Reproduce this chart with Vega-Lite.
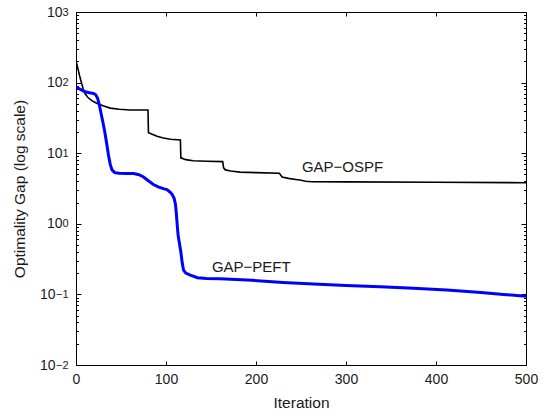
{
  "$schema": "https://vega.github.io/schema/vega-lite/v6.json",
  "width": 450,
  "height": 353,
  "autosize": "none",
  "padding": {"left": 76, "top": 12, "right": 28, "bottom": 53},
  "background": "white",
  "config": {
    "font": "Liberation Sans",
    "view": {"stroke": "#000", "strokeWidth": 1},
    "axis": {
      "grid": false,
      "domainColor": "#000",
      "tickColor": "#000",
      "labelColor": "#1a1a1a",
      "titleColor": "#1a1a1a",
      "labelFont": "Liberation Sans",
      "titleFont": "Liberation Sans",
      "labelFontSize": 14,
      "titleFontSize": 15.5,
      "titleFontWeight": "normal"
    }
  },
  "datasets": {
    "ospf": [
      {"iteration": 0, "gap": 205}, {"iteration": 2, "gap": 160}, {"iteration": 4, "gap": 125},
      {"iteration": 6, "gap": 100}, {"iteration": 8, "gap": 82}, {"iteration": 10, "gap": 70},
      {"iteration": 13, "gap": 62}, {"iteration": 18, "gap": 55}, {"iteration": 23, "gap": 51},
      {"iteration": 30, "gap": 47}, {"iteration": 38, "gap": 43.5}, {"iteration": 48, "gap": 42},
      {"iteration": 60, "gap": 41}, {"iteration": 80, "gap": 41}, {"iteration": 80.5, "gap": 19.5},
      {"iteration": 86, "gap": 18.3}, {"iteration": 90, "gap": 17.4}, {"iteration": 97, "gap": 16.4},
      {"iteration": 105, "gap": 15.8}, {"iteration": 116, "gap": 15.4}, {"iteration": 116.5, "gap": 8.6},
      {"iteration": 122, "gap": 8.1}, {"iteration": 130, "gap": 7.8}, {"iteration": 145, "gap": 7.7},
      {"iteration": 163, "gap": 7.6}, {"iteration": 164, "gap": 6.2}, {"iteration": 166, "gap": 5.8},
      {"iteration": 172, "gap": 5.6}, {"iteration": 182, "gap": 5.4}, {"iteration": 200, "gap": 5.3},
      {"iteration": 226, "gap": 5.2}, {"iteration": 229, "gap": 4.6}, {"iteration": 236, "gap": 4.4},
      {"iteration": 244, "gap": 4.25}, {"iteration": 249, "gap": 4.17}, {"iteration": 255, "gap": 4.0},
      {"iteration": 262, "gap": 3.95}, {"iteration": 301, "gap": 3.93}, {"iteration": 400, "gap": 3.88},
      {"iteration": 500, "gap": 3.82}
    ],
    "peft": [
      {"iteration": 0, "gap": 87}, {"iteration": 5, "gap": 80}, {"iteration": 10, "gap": 74},
      {"iteration": 15, "gap": 72}, {"iteration": 20, "gap": 70}, {"iteration": 22, "gap": 67},
      {"iteration": 24, "gap": 60}, {"iteration": 26, "gap": 48}, {"iteration": 28, "gap": 36},
      {"iteration": 30, "gap": 27}, {"iteration": 32, "gap": 20}, {"iteration": 34, "gap": 14},
      {"iteration": 36, "gap": 9.5}, {"iteration": 38, "gap": 7}, {"iteration": 40, "gap": 5.8},
      {"iteration": 43, "gap": 5.3}, {"iteration": 48, "gap": 5.2}, {"iteration": 55, "gap": 5.15},
      {"iteration": 64, "gap": 5.15}, {"iteration": 70, "gap": 4.95}, {"iteration": 75, "gap": 4.6},
      {"iteration": 80, "gap": 4.1}, {"iteration": 86, "gap": 3.6}, {"iteration": 92, "gap": 3.3},
      {"iteration": 98, "gap": 3.12}, {"iteration": 101, "gap": 3.05}, {"iteration": 104, "gap": 2.85},
      {"iteration": 107, "gap": 2.6}, {"iteration": 109, "gap": 2.3}, {"iteration": 110.5, "gap": 1.9},
      {"iteration": 111.5, "gap": 1.4}, {"iteration": 112.5, "gap": 0.95}, {"iteration": 113.5, "gap": 0.68},
      {"iteration": 115, "gap": 0.52}, {"iteration": 116.5, "gap": 0.4}, {"iteration": 118, "gap": 0.28},
      {"iteration": 119.5, "gap": 0.22}, {"iteration": 122, "gap": 0.2}, {"iteration": 127, "gap": 0.187},
      {"iteration": 135, "gap": 0.172}, {"iteration": 145, "gap": 0.168}, {"iteration": 160, "gap": 0.167},
      {"iteration": 190, "gap": 0.16}, {"iteration": 230, "gap": 0.148}, {"iteration": 264, "gap": 0.14},
      {"iteration": 300, "gap": 0.134}, {"iteration": 338, "gap": 0.128}, {"iteration": 375, "gap": 0.122},
      {"iteration": 412, "gap": 0.115}, {"iteration": 450, "gap": 0.106}, {"iteration": 475, "gap": 0.1},
      {"iteration": 500, "gap": 0.0945}
    ],
    "label_ospf": [{"iteration": 251, "gap": 6.44, "text": "GAP−OSPF"}],
    "label_peft": [{"iteration": 151, "gap": 0.247, "text": "GAP−PEFT"}]
  },
  "layer": [
    {
      "data": {"name": "ospf"},
      "mark": {"type": "line", "color": "#000", "strokeWidth": 1.6, "clip": true},
      "encoding": {
        "x": {
          "field": "iteration", "type": "quantitative",
          "scale": {"domain": [0, 500], "nice": false, "zero": false},
          "axis": {"orient": "bottom", "title": "Iteration", "values": [0, 100, 200, 300, 400, 500],
                   "tickSize": -4, "labelPadding": 11, "titlePadding": 9, "labelFlush": false}
        },
        "y": {
          "field": "gap", "type": "quantitative",
          "scale": {"type": "log", "domain": [0.01, 1000], "nice": false},
          "axis": {"orient": "left", "title": "Optimality Gap (log scale)",
                   "values": [0.01,0.02,0.03,0.04,0.05,0.06,0.07,0.08,0.09,0.1,0.2,0.3,0.4,0.5,0.6,0.7,0.8,0.9,1,2,3,4,5,6,7,8,9,10,20,30,40,50,60,70,80,90,100,200,300,400,500,600,700,800,900,1000],
                   "tickSize": {"condition": {"test": "abs(log(datum.value)/LN10 - round(log(datum.value)/LN10)) < 0.001", "value": -5}, "value": -2.5},
                   "labelPadding": {"condition": {"test": "datum.value < 0.5", "value": 26}, "value": 19},
                   "labelDy": 1,
                   "titlePadding": 12, "labelFlush": false,
                   "labelExpr": "abs(log(datum.value)/LN10 - round(log(datum.value)/LN10)) < 0.001 ? '10' : ''"}
        }
      }
    },
    {
      "data": {"name": "peft"},
      "mark": {"type": "line", "color": "#0000ff", "strokeWidth": 3, "clip": true},
      "encoding": {
        "x": {
          "field": "iteration", "type": "quantitative",
          "scale": {"domain": [0, 500], "nice": false, "zero": false},
          "axis": {"orient": "top", "title": null, "labels": false, "values": [100, 200, 300, 400], "tickSize": -4}
        },
        "y": {
          "field": "gap", "type": "quantitative",
          "scale": {"type": "log", "domain": [0.01, 1000], "nice": false},
          "axis": {"orient": "right", "title": null, "labels": false,
                   "values": [0.02,0.03,0.04,0.05,0.06,0.07,0.08,0.09,0.1,0.2,0.3,0.4,0.5,0.6,0.7,0.8,0.9,1,2,3,4,5,6,7,8,9,10,20,30,40,50,60,70,80,90,100,200,300,400,500,600,700,800,900],
                   "tickSize": {"condition": {"test": "abs(log(datum.value)/LN10 - round(log(datum.value)/LN10)) < 0.001", "value": -5}, "value": -2.5}}
        }
      }
    },
    {
      "data": {"name": "label_ospf"},
      "mark": {"type": "text", "align": "left", "baseline": "middle", "fontSize": 15, "font": "Liberation Sans", "color": "#1a1a1a"},
      "encoding": {
        "x": {"field": "iteration", "type": "quantitative", "scale": {"domain": [0, 500], "nice": false, "zero": false}, "axis": null},
        "y": {
          "field": "gap", "type": "quantitative",
          "scale": {"type": "log", "domain": [0.01, 1000], "nice": false},
          "axis": {"orient": "left", "title": null, "domain": false, "ticks": false,
                   "values": [0.01, 0.1, 1, 10, 100, 1000], "labelFontSize": 11, "labelPadding": 8,
                   "labelDy": -5, "labelFlush": false,
                   "labelExpr": "['−2','−1','0','1','2','3'][round(log(datum.value)/LN10)+2]"}
        },
        "text": {"field": "text"}
      }
    },
    {
      "data": {"name": "label_peft"},
      "mark": {"type": "text", "align": "left", "baseline": "middle", "fontSize": 15, "font": "Liberation Sans", "color": "#1a1a1a"},
      "encoding": {
        "x": {"field": "iteration", "type": "quantitative", "scale": {"domain": [0, 500], "nice": false, "zero": false}, "axis": null},
        "y": {
          "field": "gap", "type": "quantitative",
          "scale": {"type": "log", "domain": [0.01, 1000], "nice": false},
          "axis": null
        },
        "text": {"field": "text"}
      }
    }
  ],
  "resolve": {"axis": {"x": "independent", "y": "independent"}}
}
